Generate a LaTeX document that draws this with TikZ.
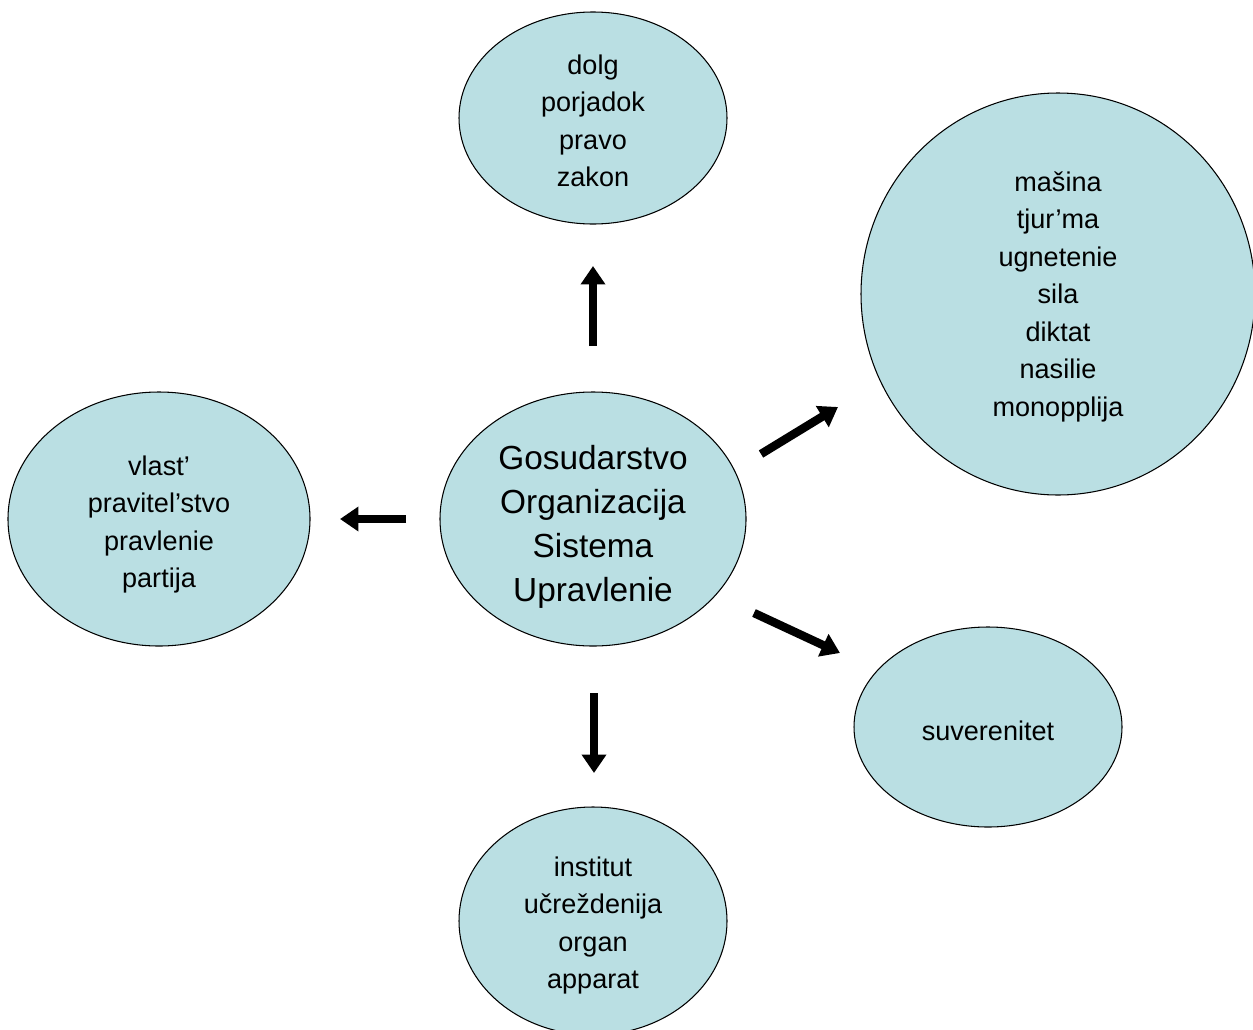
\documentclass[tikz,border=0pt]{standalone}
\usepackage{fontspec}
\setmainfont{Liberation Sans}
\usetikzlibrary{shapes.geometric,arrows.meta}
\definecolor{bubblefill}{RGB}{186,223,227}
\begin{document}
\begin{tikzpicture}[
  bubble/.style={ellipse, draw=black, line width=0.6pt, fill=bubblefill, inner sep=0pt, align=center,
    font=\fontsize{15.4}{21.3}\selectfont, text depth=0pt},
  bigbubble/.style={bubble, font=\fontsize{19}{25}\selectfont},
  blockarrow/.style={line width=4.8pt, -{Triangle[width=13.5pt,length=10.5pt]}}]
\useasboundingbox (0,0) rectangle (25.06,-20.58);
\clip (0,0) rectangle (25.06,-20.58);
\node[bigbubble, minimum width=6.12cm, minimum height=5.08cm, text height=93.4pt] (P_0_0) at (11.86,-10.38) {Gosudarstvo\\Organizacija\\Sistema\\Upravlenie};
\node[bubble, minimum width=5.36cm, minimum height=4.24cm, text height=78.3pt] (P_1_0) at (11.86,-2.36) {dolg\\porjadok\\pravo\\zakon};
\node[bubble, minimum width=7.88cm, minimum height=8.04cm] (P_1_1) at (21.16,-5.88) {mašina\\tjur’ma\\ugnetenie\\sila\\diktat\\nasilie\\monopplija};
\node[bubble, minimum width=6.04cm, minimum height=5.08cm, text height=78.3pt] (P_1_2) at (3.18,-10.38) {vlast’\\pravitel’stvo\\pravlenie\\partija};
\node[bubble, minimum width=5.36cm, minimum height=4.0cm, text height=15.6pt] (P_1_3) at (19.76,-14.54) {suverenitet};
\node[bubble, minimum width=5.36cm, minimum height=4.56cm, text height=77.1pt] (P_1_4) at (11.86,-18.42) {institut\\učreždenija\\organ\\apparat};
\coordinate (A_0_0) at (11.86,-6.92);
\coordinate (A_1_0) at (11.86,-5.32);
\draw[blockarrow] (A_0_0) -- (A_1_0);
\coordinate (A_0_1) at (15.22,-9.08);
\coordinate (A_1_1) at (16.76,-8.14);
\draw[blockarrow] (A_0_1) -- (A_1_1);
\coordinate (A_0_2) at (8.12,-10.38);
\coordinate (A_1_2) at (6.80,-10.38);
\draw[blockarrow] (A_0_2) -- (A_1_2);
\coordinate (A_0_3) at (15.08,-12.26);
\coordinate (A_1_3) at (16.80,-13.06);
\draw[blockarrow] (A_0_3) -- (A_1_3);
\coordinate (A_0_4) at (11.88,-13.86);
\coordinate (A_1_4) at (11.88,-15.46);
\draw[blockarrow] (A_0_4) -- (A_1_4);
\end{tikzpicture}
\end{document}
